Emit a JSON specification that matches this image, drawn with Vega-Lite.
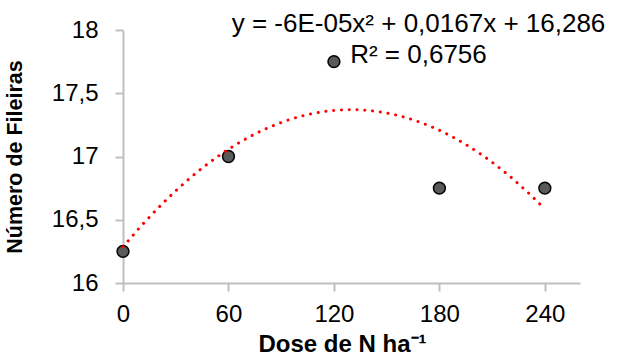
{
  "$schema": "https://vega.github.io/schema/vega-lite/v6.json",
  "width": 457,
  "height": 253,
  "autosize": {"type": "none"},
  "padding": {"left": 123, "top": 30, "right": 40, "bottom": 77},
  "background": "white",
  "config": {
    "view": {"stroke": null},
    "font": "Liberation Sans"
  },
  "title": {
    "text": ["y = -6E-05x² + 0,0167x + 16,286", "R² = 0,6756"],
    "anchor": "middle",
    "dx": 67,
    "offset": -50,
    "fontSize": 26,
    "fontWeight": "normal",
    "font": "Liberation Sans",
    "color": "black",
    "lineHeight": 31
  },
  "data": {
    "values": [
      {"dose": 0, "fileiras": 16.25},
      {"dose": 60, "fileiras": 17.0},
      {"dose": 120, "fileiras": 17.75},
      {"dose": 180, "fileiras": 16.75},
      {"dose": 240, "fileiras": 16.75}
    ]
  },
  "encoding": {
    "x": {
      "field": "dose",
      "type": "quantitative",
      "scale": {"domain": [0, 260], "nice": false, "zero": false},
      "axis": {
        "title": "Dose de N ha⁻¹",
        "values": [0, 60, 120, 180, 240],
        "grid": false,
        "labelFlush": false,
        "domainColor": "#bfbfbf",
        "domainWidth": 2,
        "tickColor": "#bfbfbf",
        "tickWidth": 2,
        "tickSize": 8,
        "labelFontSize": 24,
        "labelColor": "black",
        "labelPadding": 11,
        "labelFont": "Liberation Sans",
        "titleFont": "Liberation Sans",
        "titleFontSize": 24,
        "titleFontWeight": "bold",
        "titleColor": "black",
        "titlePadding": 6,
        "titleX": 219
      }
    },
    "y": {
      "field": "fileiras",
      "type": "quantitative",
      "scale": {"domain": [16, 18], "nice": false, "zero": false},
      "axis": {
        "title": "Número de Fileiras",
        "values": [16, 16.5, 17, 17.5, 18],
        "labelExpr": "replace(format(datum.value, '~g'), '.', ',')",
        "grid": false,
        "labelFlush": false,
        "domainColor": "#bfbfbf",
        "domainWidth": 2,
        "tickColor": "#bfbfbf",
        "tickWidth": 2,
        "tickSize": 8,
        "labelFontSize": 24,
        "labelColor": "black",
        "labelPadding": 17,
        "labelFont": "Liberation Sans",
        "titleFont": "Liberation Sans",
        "titleFontSize": 21.5,
        "titleFontWeight": "bold",
        "titleColor": "black",
        "titlePadding": 25
      }
    }
  },
  "layer": [
    {
      "mark": {"type": "point", "filled": true, "fill": "#595959", "stroke": "black", "strokeWidth": 1.5, "size": 140, "opacity": 1}
    },
    {
      "transform": [
        {"regression": "fileiras", "on": "dose", "method": "poly", "order": 2}
      ],
      "mark": {"type": "line", "color": "#ff0000", "strokeWidth": 3, "strokeCap": "round", "strokeDash": [0.1, 7.7]}
    }
  ]
}
